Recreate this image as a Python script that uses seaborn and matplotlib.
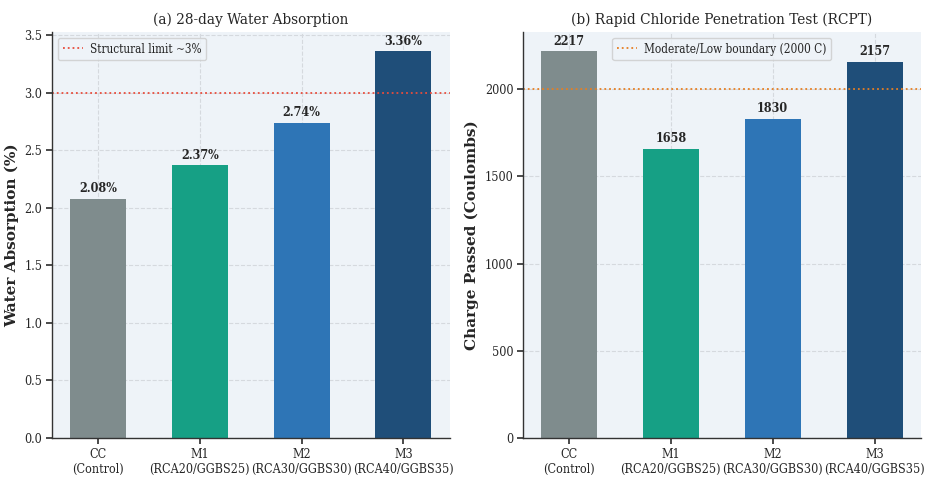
import matplotlib
matplotlib.use("Agg")
import matplotlib.pyplot as plt
import seaborn as sns
import pandas as pd

mixes = ["CC\n(Control)", "M1\n(RCA20/GGBS25)", "M2\n(RCA30/GGBS30)", "M3\n(RCA40/GGBS35)"]
water_absorption = [2.08, 2.37, 2.74, 3.36]
rcpt_charge = [2217, 1658, 1830, 2157]
bar_colors = ["#7f8c8d", "#16a085", "#2e75b6", "#1f4e79"]

sns.set_theme(style="whitegrid")
plt.rcParams["font.family"] = ["DejaVu Serif"]
plt.rcParams["font.stretch"] = "condensed"
plt.rcParams["axes.facecolor"] = "#eef3f8"

BAR_W = 0.55

fig, axes = plt.subplots(1, 2, figsize=(9.28, 4.84), dpi=100)

df_wa = pd.DataFrame({"mix": mixes, "value": water_absorption})
df_rc = pd.DataFrame({"mix": mixes, "value": rcpt_charge})

ylabel_font = dict(fontsize=11, fontweight="bold", fontstretch="normal")


def style_axis(ax, n):
    # same horizontal padding as matplotlib's default 5% margins
    span = (n - 1) + BAR_W
    ax.set_xlim(-BAR_W / 2 - 0.05 * span, (n - 1) + BAR_W / 2 + 0.05 * span)
    ax.grid(True, linestyle="--", color="#d5d9de", linewidth=0.8)
    ax.set_axisbelow(True)
    for s in ["top", "right"]:
        ax.spines[s].set_visible(False)
    for s in ["left", "bottom"]:
        ax.spines[s].set_color("#333333")
        ax.spines[s].set_linewidth(1.0)
    ax.tick_params(axis="both", which="both", length=4, color="#333333",
                   labelsize=9, bottom=True, left=True, pad=3)
    ax.set_xlabel("")


# (a) water absorption
ax = axes[0]
sns.barplot(data=df_wa, x="mix", y="value", hue="mix", palette=bar_colors,
            width=BAR_W, legend=False, ax=ax, saturation=1, linewidth=0)
ax.axhline(3.0, color="#e74c3c", linestyle=":", linewidth=1.3,
           label="Structural limit ~3%")
for i, v in enumerate(water_absorption):
    ax.text(i, v + 0.03, f"{v:.2f}%", ha="center", va="bottom",
            fontsize=9, fontweight="bold")
ax.set_ylim(0, max(water_absorption) * 1.05)
ax.set_title("(a) 28-day Water Absorption", fontsize=11)
ax.set_ylabel("Water Absorption (%)", **ylabel_font)
ax.legend(loc="upper left", fontsize=8.5, frameon=True,
          handlelength=1.7, handletextpad=0.6)
style_axis(ax, len(mixes))

# (b) RCPT
ax = axes[1]
sns.barplot(data=df_rc, x="mix", y="value", hue="mix", palette=bar_colors,
            width=BAR_W, legend=False, ax=ax, saturation=1, linewidth=0)
ax.axhline(2000, color="#e67e22", linestyle=":", linewidth=1.3,
           label="Moderate/Low boundary (2000 C)")
for i, v in enumerate(rcpt_charge):
    ax.text(i, v + 20, f"{v}", ha="center", va="bottom",
            fontsize=9, fontweight="bold")
ax.set_ylim(0, max(rcpt_charge) * 1.05)
ax.set_title("(b) Rapid Chloride Penetration Test (RCPT)", fontsize=11)
ax.set_ylabel("Charge Passed (Coulombs)", **ylabel_font)
ax.legend(loc="upper center", fontsize=8.5, frameon=True,
          handlelength=1.7, handletextpad=0.6)
style_axis(ax, len(mixes))

fig.subplots_adjust(left=0.056, right=0.992, top=0.934, bottom=0.095, wspace=0.185)
fig.savefig("out.png", dpi=100)
